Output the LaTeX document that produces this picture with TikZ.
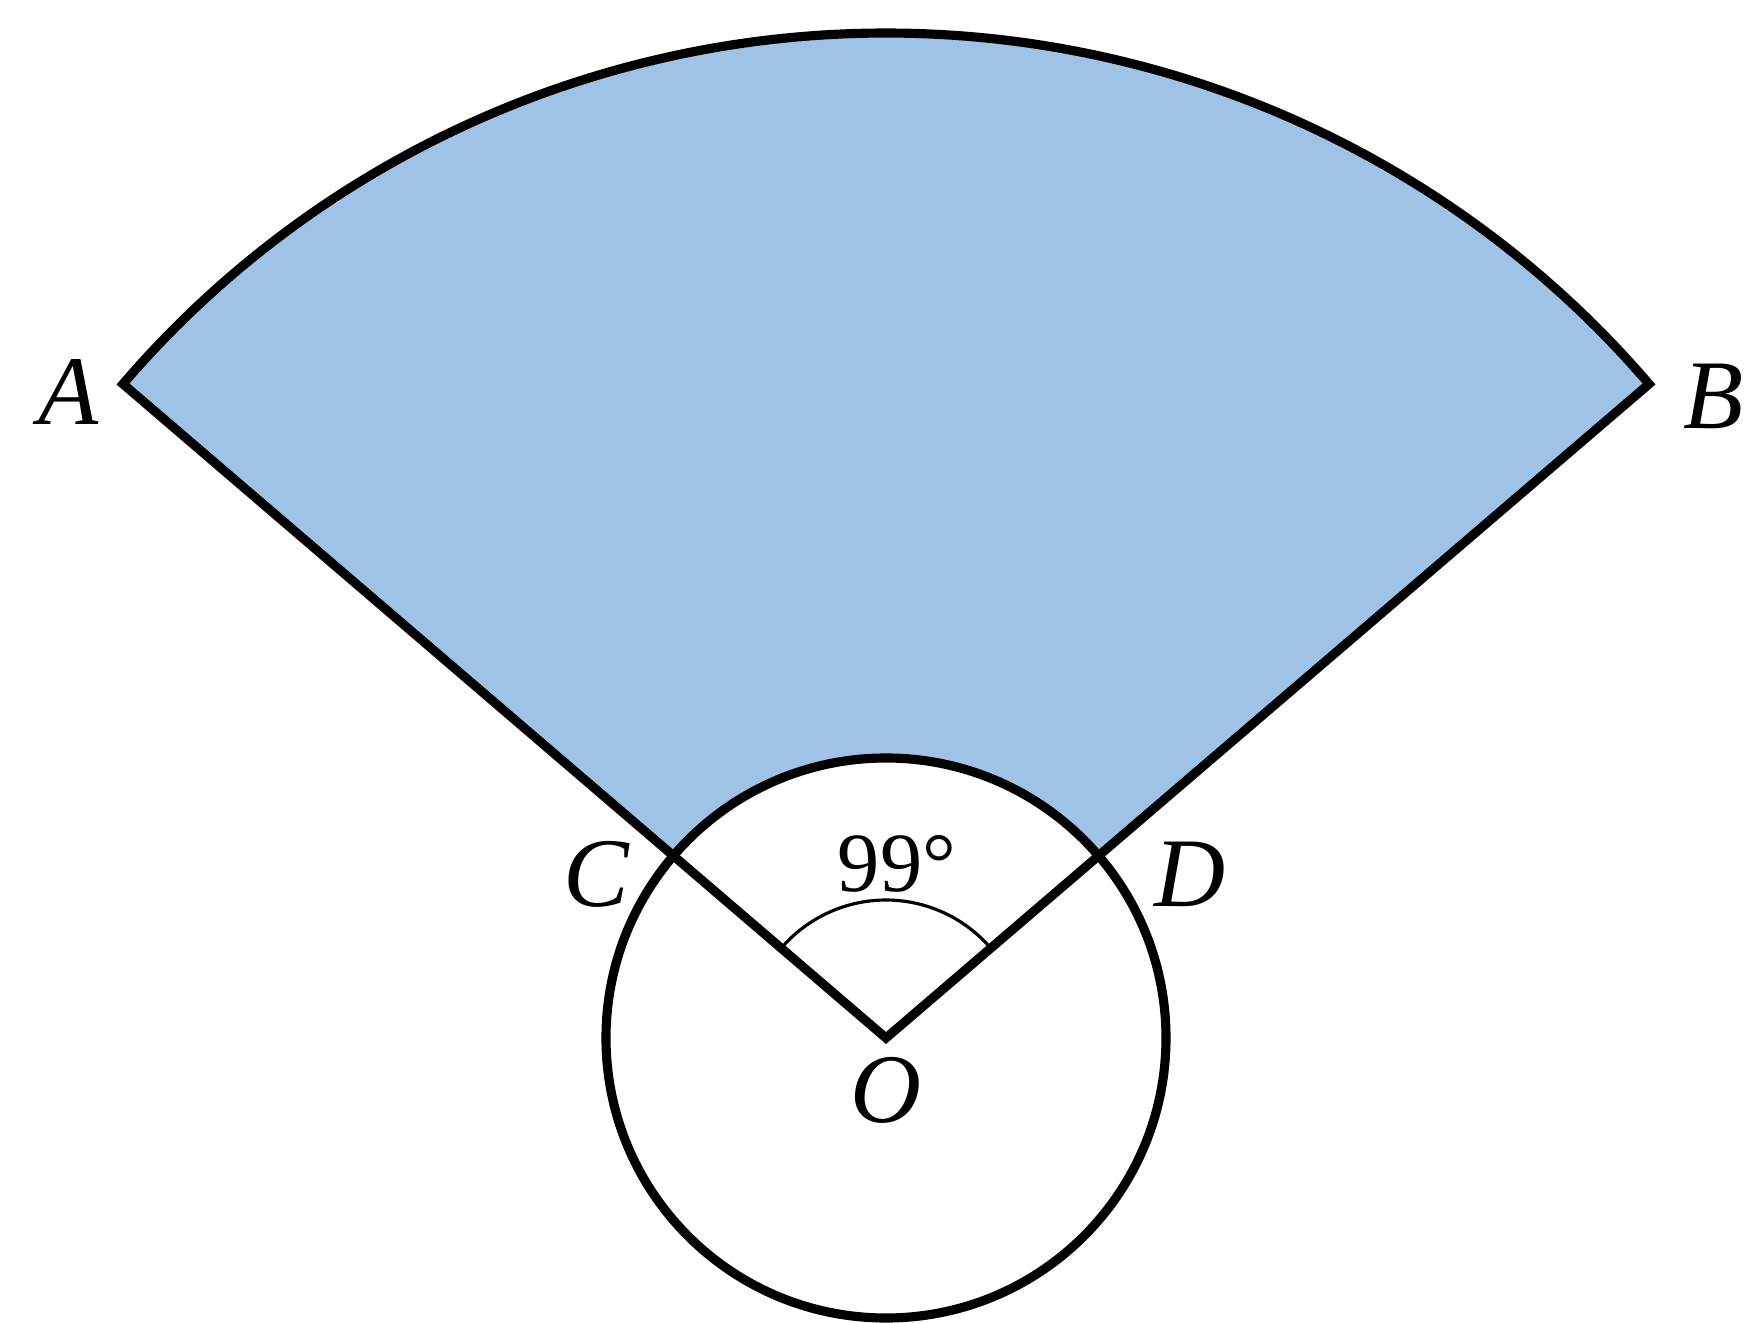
\documentclass[tikz,border=0pt]{standalone}
\usepackage{fontspec}
\setmainfont{Liberation Serif}[Numbers=Lining]
\definecolor{sectorblue}{RGB}{159,195,231}
\begin{document}
\begin{tikzpicture}[
        edge/.style={line width=2.6pt, line join=miter},
        angmark/.style={line width=0.9pt},
        ptlabel/.style={font=\fontsize{28}{32}\selectfont\itshape, inner sep=0pt},
        deglabel/.style={font=\fontsize{24}{28}\selectfont, inner sep=0pt}
    ]
    \useasboundingbox (-8.86,-2.84) rectangle (8.61,10.38);
    \def\rin{2.8}
    \def\rout{10.05}

    \coordinate (O) at (0,0);
    \coordinate (A) at (139.4:\rout);
    \coordinate (B) at (40.6:\rout);
    \coordinate (C) at (139.4:\rin);
    \coordinate (D) at (40.6:\rin);

    % shaded band between the two arcs
    \fill[sectorblue] (C) -- (A) arc[start angle=139.4, end angle=40.6, radius=\rout]
        -- (D) arc[start angle=40.6, end angle=139.4, radius=\rin] -- cycle;

    \draw[edge] (O) -- (A) arc[start angle=139.4, end angle=40.6, radius=\rout] -- cycle;
    \draw[edge] (O) circle[radius=\rin];
    \draw[angmark] (139.4:1.38) arc[start angle=139.4, end angle=40.6, radius=1.38];

    \node[ptlabel] (labA) at (-8.17,6.46) {A};
    \node[ptlabel] (labB) at (8.28,6.42) {B};
    \node[ptlabel] (labC) at (-2.90,1.64) {C};
    \node[ptlabel] (labD) at (3.04,1.64) {D};
    \node[ptlabel] (labO) at (0,-0.52) {O};
    \node[deglabel] (angle) at (0.11,1.74) {99°};
\end{tikzpicture}
\end{document}
